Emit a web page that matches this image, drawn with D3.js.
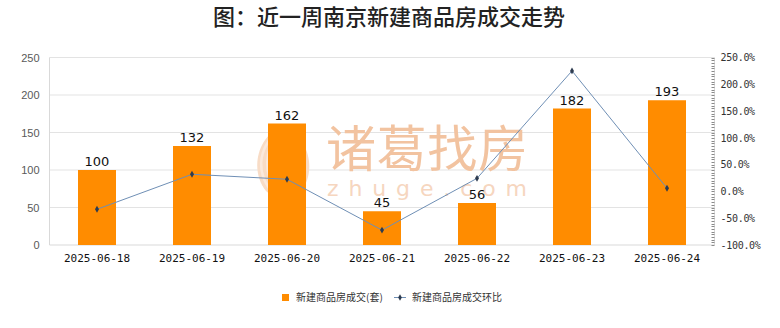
<!DOCTYPE html>
<html>
<head>
<meta charset="utf-8">
<script src="https://cdn.jsdelivr.net/npm/d3@7"></script>
<style>
  html, body { margin: 0; padding: 0; background: #fff; }
  svg { display: block; }
</style>
</head>
<body>
<div id="chart"></div>
<script>
// Weekly Nanjing new-home transactions (units) and week-over-week change
const dates = ["2025-06-18", "2025-06-19", "2025-06-20", "2025-06-21", "2025-06-22", "2025-06-23", "2025-06-24"];
const deals = [100, 132, 162, 45, 56, 182, 193];
const changePct = [-33.3, 32.0, 22.7, -72.2, 24.4, 225.0, 6.0];
const leftTicks = [0, 50, 100, 150, 200, 250];
const rightTicks = [-100, -50, 0, 50, 100, 150, 200, 250];

const W = 780, H = 328;
const plot = { left: 49.5, right: 714.5, top: 57.5, bottom: 245 };

const svg = d3.select("#chart").append("svg")
  .attr("width", W).attr("height", H);

// Title
svg.append("text")
  .attr("x", 389).attr("y", 25)
  .attr("text-anchor", "middle")
  .attr("font-family", "'Noto Sans CJK SC', sans-serif")
  .attr("font-size", 22).attr("font-weight", 500)
  .attr("fill", "#222")
  .text("图：近一周南京新建商品房成交走势");

const x = d3.scaleBand().domain(dates).range([plot.left, plot.right]).paddingInner(0.6).paddingOuter(0.3);
const yL = d3.scaleLinear().domain([0, 250]).range([plot.bottom, plot.top]);
const yR = d3.scaleLinear().domain([-100, 250]).range([plot.bottom, plot.top]);

// Gridlines
svg.append("g").selectAll("line").data(leftTicks.slice(1)).join("line")
  .attr("x1", plot.left).attr("x2", plot.right)
  .attr("y1", d => yL(d)).attr("y2", d => yL(d))
  .attr("stroke", "#e3e3e3").attr("stroke-width", 1);

// Watermark (brand logo + name), drawn beneath the bars
const wmColor = "#f2c3a0";
const wm = svg.append("g").attr("pointer-events", "none");
wm.append("path")
  .attr("d", "M283,126 C256,136 250,172 266,191 C275,200 292,200 301,191 C316,173 311,138 283,126 Z")
  .attr("fill", "#f8dcc6");
[-14, -7, 0, 7, 14].forEach((o, k) => {
  wm.append("path")
    .attr("d", `M${283 + o * 0.3},130 C${270 + o},150 ${270 + o},175 ${283 + o * 0.6},195`)
    .attr("fill", "none").attr("stroke", "#fbe9dc").attr("stroke-width", 2.5);
});
wm.append("text")
  .attr("x", 326).attr("y", 167)
  .attr("font-family", "'Noto Sans CJK SC', sans-serif")
  .attr("font-size", 50).attr("font-weight", 400)
  .attr("fill", wmColor)
  .attr("textLength", 202)
  .text("诸葛找房");
wm.append("text")
  .attr("x", 327).attr("y", 196)
  .attr("font-family", "'DejaVu Sans', sans-serif")
  .attr("font-size", 22)
  .attr("fill", "#f6d6bf")
  .attr("textLength", 200)
  .attr("lengthAdjust", "spacing")
  .text("zhuge.com");

// Axis frame lines
svg.append("line")
  .attr("x1", plot.left).attr("x2", plot.left)
  .attr("y1", plot.top).attr("y2", plot.bottom)
  .attr("stroke", "#d9d9d9");
svg.append("line")
  .attr("x1", plot.left).attr("x2", plot.right)
  .attr("y1", plot.bottom).attr("y2", plot.bottom)
  .attr("stroke", "#d9d9d9");
svg.append("line")
  .attr("x1", plot.right).attr("x2", plot.right)
  .attr("y1", plot.top).attr("y2", plot.bottom)
  .attr("stroke", "#d9d9d9");

// Bars
svg.append("g").selectAll("rect").data(deals).join("rect")
  .attr("x", (d, i) => x(dates[i]))
  .attr("y", d => yL(d))
  .attr("width", x.bandwidth())
  .attr("height", d => plot.bottom - yL(d))
  .attr("fill", "#FF8C00");

// Bar value labels
svg.append("g").selectAll("text").data(deals).join("text")
  .attr("x", (d, i) => x(dates[i]) + x.bandwidth() / 2)
  .attr("y", d => yL(d) - 4)
  .attr("text-anchor", "middle")
  .attr("font-family", "'DejaVu Sans', sans-serif")
  .attr("font-size", 13)
  .attr("fill", "#111")
  .text(d => d);

// Week-over-week line
const cx = (i) => x(dates[i]) + x.bandwidth() / 2;
const line = d3.line().x((d, i) => cx(i)).y(d => yR(d));
svg.append("path")
  .datum(changePct)
  .attr("d", line)
  .attr("fill", "none")
  .attr("stroke", "#6f8fb5")
  .attr("stroke-width", 1);
svg.append("g").selectAll("path").data(changePct).join("path")
  .attr("d", d3.symbol(d3.symbolDiamond, 14))
  .attr("transform", (d, i) => `translate(${cx(i)},${yR(d)})`)
  .attr("fill", "#2d3b4f");

// Left axis
const axL = svg.append("g")
  .attr("transform", `translate(${plot.left},0)`)
  .call(d3.axisLeft(yL).tickValues(leftTicks).tickSize(0).tickPadding(10));
axL.select(".domain").remove();
axL.selectAll("text")
  .attr("font-family", "'Liberation Sans', Arial, sans-serif")
  .attr("font-size", 11).attr("fill", "#595959");

// Right axis with minor ticks every 5%
const minor = d3.range(-100, 250.01, 5);
svg.append("g").selectAll("line").data(minor).join("line")
  .attr("x1", plot.right - 3).attr("x2", plot.right)
  .attr("y1", d => Math.round(yR(d)) + 0.5).attr("y2", d => Math.round(yR(d)) + 0.5)
  .attr("stroke", "#8a8a8a").attr("stroke-width", 1);
const axR = svg.append("g")
  .attr("transform", `translate(${plot.right},0)`)
  .call(d3.axisRight(yR).tickValues(rightTicks).tickSize(0).tickPadding(6)
    .tickFormat(d => d.toFixed(1) + "%"));
axR.select(".domain").remove();
axR.selectAll("text")
  .attr("font-family", "'DejaVu Sans Mono', monospace")
  .attr("font-size", 10).attr("letter-spacing", -0.3).attr("fill", "#333");

// Bottom axis
const axB = svg.append("g")
  .attr("transform", `translate(0,${plot.bottom})`)
  .call(d3.axisBottom(x).tickSize(0).tickPadding(9));
axB.select(".domain").remove();
axB.selectAll("text")
  .attr("font-family", "'DejaVu Sans Mono', monospace")
  .attr("font-size", 11).attr("fill", "#111");

// Legend
const lg = svg.append("g").attr("font-family", "'Noto Sans CJK SC', sans-serif")
  .attr("font-size", 10).attr("fill", "#333");
lg.append("rect").attr("x", 282).attr("y", 294).attr("width", 7).attr("height", 7).attr("fill", "#FF8C00");
lg.append("text").attr("x", 296).attr("y", 301).text("新建商品房成交(套)");
lg.append("line").attr("x1", 394).attr("x2", 406).attr("y1", 297.5).attr("y2", 297.5)
  .attr("stroke", "#6f8fb5").attr("stroke-width", 1);
lg.append("path").attr("d", d3.symbol(d3.symbolDiamond, 12))
  .attr("transform", "translate(400,297.5)").attr("fill", "#2d3b4f");
lg.append("text").attr("x", 412).attr("y", 301).text("新建商品房成交环比");
</script>
</body>
</html>
